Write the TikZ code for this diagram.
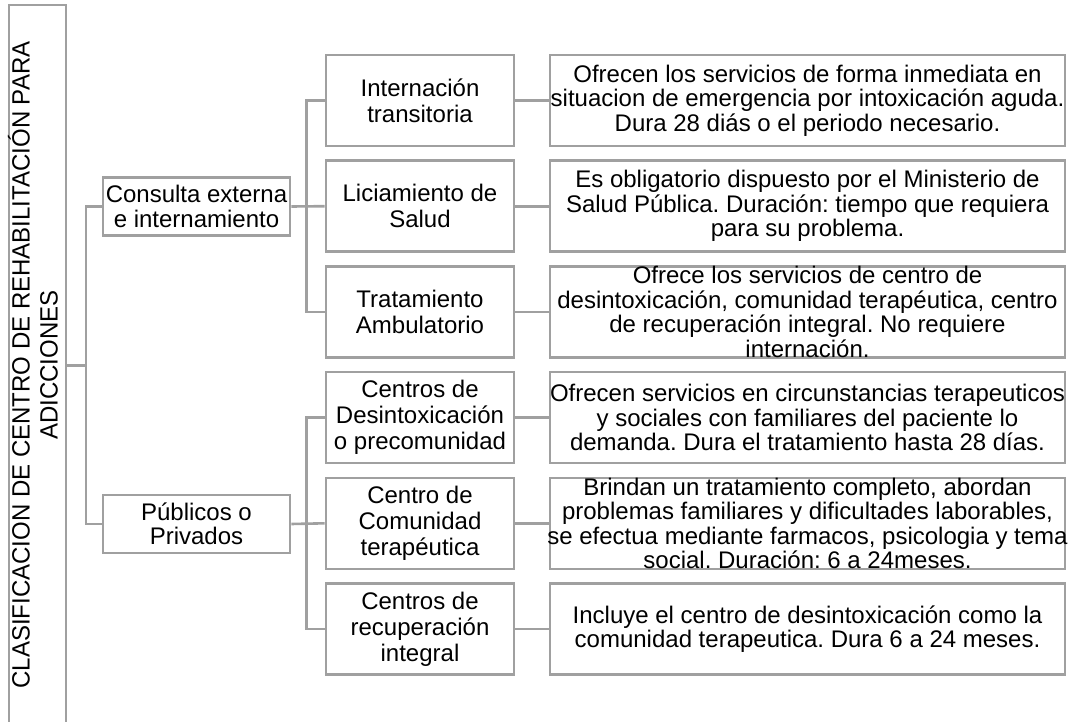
\documentclass[tikz,border=0pt]{standalone}
\usepackage{fontspec}
\setmainfont{Liberation Sans}
\frenchspacing
\definecolor{edgegray}{HTML}{A0A0A0}
\begin{document}
\begin{tikzpicture}[x=1pt,y=-1pt,
  box/.style={draw=edgegray, line width=2.6pt, inner sep=0pt},
  lvlone/.style={box, minimum width=187pt, minimum height=58pt},
  lvltwo/.style={box, minimum width=188pt, minimum height=91pt},
  lvlthree/.style={box, minimum width=515pt, minimum height=91pt},
  txt/.style={align=center, inner sep=0pt, font=\fontsize{24}{24.5}\selectfont},
  txttwo/.style={txt, font=\fontsize{24}{26}\selectfont},
  conn/.style={draw=edgegray, line width=2.6pt}]
\clip (0,0) rectangle (1075,722);
\fill[white] (0,0) rectangle (1075,722);

% root
\node[box, minimum width=57pt, minimum height=725pt] (root) at (37.5,367.5) {};
\node[inner sep=0pt] (roottxt) at (37,365) {\rotatebox{90}{\scalebox{0.96}[1]{\fontsize{25}{28}\selectfont\begin{tabular}{@{}c@{}}CLASIFICACION DE CENTRO DE REHABILITACIÓN PARA\\ADICCIONES\end{tabular}}}};

% level 1
\node[lvlone] (a1) at (196.5,206.5) {};
\node[txt] (a1t) at (a1.center) {Consulta externa\\e internamiento};
\node[lvlone] (a2) at (196.5,524) {};
\node[txt] (a2t) at (a2.center) {Públicos o\\Privados};

% level 2
\node[lvltwo] (b1) at (420,100.5) {};
\node[txttwo] (b1t) at (b1.center) {Internación\\transitoria};
\node[lvltwo] (b2) at (420,206.2) {};
\node[txttwo] (b2t) at (b2.center) {Liciamiento de\\Salud};
\node[lvltwo] (b3) at (420,311.9) {};
\node[txttwo] (b3t) at (b3.center) {Tratamiento\\Ambulatorio};
\node[lvltwo] (b4) at (420,417.6) {};
\node[txttwo] (b4t) at (b4.center) {Centros de\\Desintoxicación\\o precomunidad};
\node[lvltwo] (b5) at (420,523.3) {};
\node[txttwo] (b5t) at (b5.center) {Centro de\\Comunidad\\terapéutica};
\node[lvltwo] (b6) at (420,629) {};
\node[txttwo] (b6t) at (b6.center) {Centros de\\recuperación\\integral};

% level 3
\node[lvlthree] (c1) at (807.5,100.5) {};
\node[txt] (c1t) at (c1.center) {Ofrecen los servicios de forma inmediata en\\situacion de emergencia por intoxicación aguda.\\Dura 28 diás o el periodo necesario.};
\node[lvlthree] (c2) at (807.5,206.2) {};
\node[txt] (c2t) at (c2.center) {Es obligatorio dispuesto por el Ministerio de\\Salud Pública. Duración: tiempo que requiera\\para su problema.};
\node[lvlthree] (c3) at (807.5,311.9) {};
\node[txt] (c3t) at (c3.center) {Ofrece los servicios de centro de\\desintoxicación, comunidad terapéutica, centro\\de recuperación integral. No requiere\\internación.};
\node[lvlthree] (c4) at (807.5,417.6) {};
\node[txt] (c4t) at (c4.center) {Ofrecen servicios en circunstancias terapeuticos\\y sociales con familiares del paciente lo\\demanda. Dura el tratamiento hasta 28 días.};
\node[lvlthree] (c5) at (807.5,523.3) {};
\node[txt] (c5t) at (c5.center) {Brindan un tratamiento completo, abordan\\problemas familiares y dificultades laborables,\\se efectua mediante farmacos, psicologia y tema\\social. Duración: 6 a 24meses.};
\node[lvlthree] (c6) at (807.5,629) {};
\node[txt] (c6t) at (c6.center) {Incluye el centro de desintoxicación como la\\comunidad terapeutica. Dura 6 a 24 meses.};

% connectors
\coordinate (j0) at (86,365.5);
\draw[conn] (root.east |- j0) -- (j0);
\draw[conn] (a1.west) -| (j0) |- (a2.west);
\draw[conn] (a1.east) -- (b2.west);
\draw[conn] (b1.west) -- ++(-18,0) |- (b3.west);
\draw[conn] (a2.east) -- (b5.west);
\draw[conn] (b4.west) -- ++(-18,0) |- (b6.west);
\draw[conn] (b1.east) -- (c1.west);
\draw[conn] (b2.east) -- (c2.west);
\draw[conn] (b3.east) -- (c3.west);
\draw[conn] (b4.east) -- (c4.west);
\draw[conn] (b5.east) -- (c5.west);
\draw[conn] (b6.east) -- (c6.west);
\end{tikzpicture}
\end{document}
